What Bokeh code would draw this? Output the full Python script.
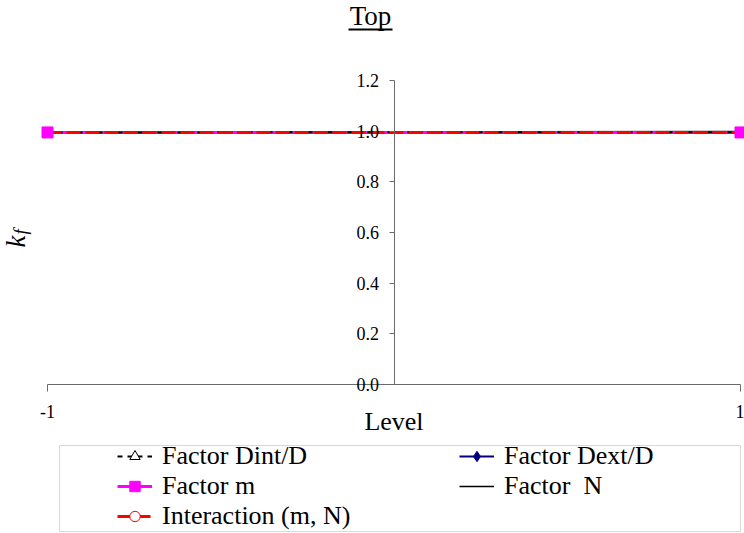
import math
from bokeh.plotting import figure
from bokeh.models import (Range1d, FixedTicker, PrintfTickFormatter, Label,
                          BoxAnnotation, Legend, LegendItem)
from bokeh.embed import file_html
from bokeh.resources import INLINE

# ---- data ----
levels = [-1, 1]
dint_d = [0.995, 0.996]
dext_d = [0.995, 0.997]
factor_m = [0.995, 0.995]
factor_n = [0.994, 0.999]
interaction_mn = [0.995, 0.995]
x_ticks = [-1, 1]
y_ticks = [0.0, 0.2, 0.4, 0.6, 0.8, 1.0, 1.2]

SERIF = "Liberation Serif"
AX = "#6b6b6b"

# ---- layout: canvas covers the whole window, plot area placed by ranges ----
W, H = 744, 533
X_LEFT_PX, X_RIGHT_PX = 47, 740      # where level -1 and 1 sit
Y_BOT_PX, Y_TOP_PX = 384, 80         # where 0.0 and 1.2 sit (from top)
ppx = (X_RIGHT_PX - X_LEFT_PX) / (x_ticks[-1] - x_ticks[0])
ppy = (Y_BOT_PX - Y_TOP_PX) / (y_ticks[-1] - y_ticks[0])
x_range = Range1d(x_ticks[0] - X_LEFT_PX / ppx, x_ticks[-1] + (W - X_RIGHT_PX) / ppx)
y_range = Range1d(y_ticks[0] - (H - Y_BOT_PX) / ppy, y_ticks[-1] + Y_TOP_PX / ppy)

p = figure(width=W, height=H, output_backend="svg", toolbar_location=None,
           x_range=x_range, y_range=y_range, min_border=0)
p.outline_line_color = None
p.grid.visible = False
p.background_fill_color = "white"
p.border_fill_color = "white"

# x axis at y = 0
xa = p.xaxis[0]
xa.fixed_location = 0
xa.bounds = (x_ticks[0], x_ticks[-1])
xa.ticker = FixedTicker(ticks=x_ticks)
xa.formatter = PrintfTickFormatter(format="%d")
xa.axis_line_color = AX
xa.major_tick_line_color = AX
xa.major_tick_out = 7
xa.major_tick_in = 0
xa.minor_tick_line_color = None
xa.major_label_text_font = SERIF
xa.major_label_text_font_size = "18px"
xa.major_label_text_color = "black"
xa.major_label_standoff = 13
xa.axis_label = "Level"
xa.axis_label_text_font = SERIF
xa.axis_label_text_font_size = "26px"
xa.axis_label_text_font_style = "normal"
xa.axis_label_text_color = "black"
xa.axis_label_standoff = -14

# y axis crossing at x = 0
ya = p.yaxis[0]
ya.fixed_location = 0
ya.bounds = (y_ticks[0], y_ticks[-1])
ya.ticker = FixedTicker(ticks=y_ticks)
ya.formatter = PrintfTickFormatter(format="%.1f")
ya.axis_line_color = AX
ya.major_tick_line_color = AX
ya.major_tick_out = 5
ya.major_tick_in = 0
ya.minor_tick_line_color = None
ya.major_label_text_font = SERIF
ya.major_label_text_font_size = "18px"
ya.major_label_text_color = "black"
ya.major_label_standoff = 10

# series
r_n = p.line(levels, factor_n, line_color="black", line_width=1.5)
r_dext = p.line(levels, dext_d, line_color="navy", line_width=2)
s_dext = p.scatter(levels, dext_d, marker="diamond", size=9,
                   fill_color="navy", line_color="navy")
r_m = p.line(levels, factor_m, line_color="magenta", line_width=3)
r_dint = p.line(levels, dint_d, line_color="black", line_width=2, line_dash="5 5")
s_dint = p.scatter(levels, dint_d, marker="triangle", size=5,
                   fill_color="white", line_color="black")
r_int = p.line(levels, interaction_mn, line_color="red", line_width=3,
               line_dash="14 5")
s_int = p.scatter(levels, interaction_mn, marker="circle", size=8,
                  fill_color="white", line_color="red")
s_m = p.scatter(levels, factor_m, marker="square", size=11,
                fill_color="magenta", line_color="magenta")

# legend (column-major fill: first column, then second)
legend = Legend(items=[
    LegendItem(label="Factor Dint/D", renderers=[r_dint, s_dint]),
    LegendItem(label="Factor m", renderers=[r_m, s_m]),
    LegendItem(label="Interaction (m, N)", renderers=[r_int, s_int]),
    LegendItem(label="Factor Dext/D", renderers=[r_dext, s_dext]),
    LegendItem(label="Factor  N", renderers=[r_n]),
], ncols=2, location=(117, 2), padding=0, margin=0, spacing=0,
    border_line_color=None, background_fill_alpha=0,
    glyph_width=35, glyph_height=26, label_height=26, label_width=297,
    label_standoff=10, label_text_font=SERIF, label_text_font_size="26px",
    label_text_color="black")
p.add_layout(legend, "center")

p.add_layout(BoxAnnotation(left=59, right=740, bottom=2, top=88,
                           left_units="screen", right_units="screen",
                           bottom_units="screen", top_units="screen",
                           fill_alpha=0, line_color="#7f7f7f", line_width=1))

# title with underline
p.add_layout(Label(x=370, y=518, x_units="screen", y_units="screen", text="Top",
                   text_align="center", text_baseline="alphabetic",
                   text_font=SERIF, text_font_size="27px", text_color="black"))
p.add_layout(BoxAnnotation(left=348, right=392, bottom=503, top=505,
                           left_units="screen", right_units="screen",
                           bottom_units="screen", top_units="screen",
                           fill_color="black", fill_alpha=1, line_color=None))

# y label k_f
p.add_layout(Label(x=15, y=286, x_units="screen", y_units="screen", text="k",
                   angle=math.pi / 2, text_align="left", text_baseline="alphabetic",
                   text_font=SERIF, text_font_style="italic", text_font_size="27px",
                   text_color="black"))
p.add_layout(Label(x=20, y=299, x_units="screen", y_units="screen", text="f",
                   angle=math.pi / 2, text_align="left", text_baseline="alphabetic",
                   text_font=SERIF, text_font_style="italic", text_font_size="19px",
                   text_color="black"))

open("out.html", "w").write(file_html(p, INLINE))
